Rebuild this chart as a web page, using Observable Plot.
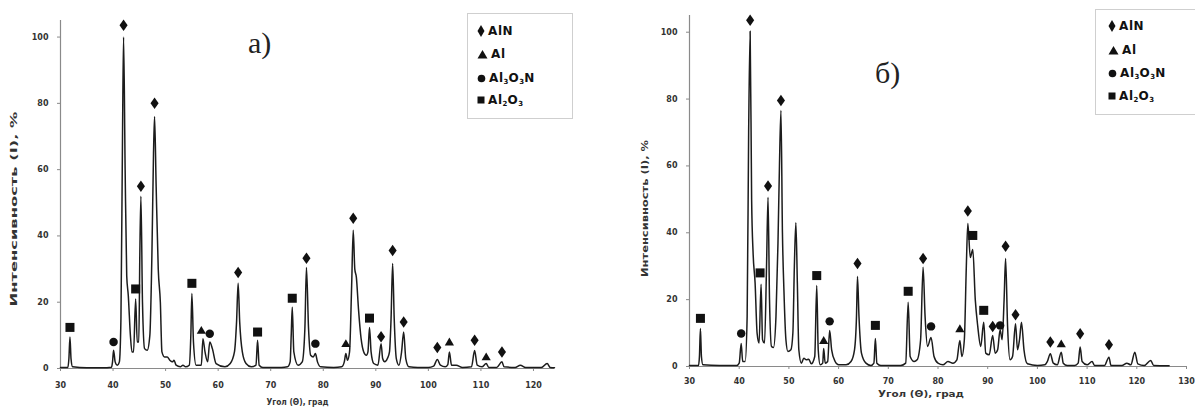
<!DOCTYPE html>
<html><head><meta charset="utf-8">
<script src="https://cdn.jsdelivr.net/npm/d3@7"></script>
<script src="https://cdn.jsdelivr.net/npm/@observablehq/plot@0.6"></script>
<style>
html,body{margin:0;padding:0;background:#fff;}
#wrap{position:relative;width:1195px;height:410px;overflow:hidden;background:#fff;}
.panel{position:absolute;top:0;}
.legend{position:absolute;border:1px solid #cfcfcf;background:#fff;font:bold 12px "DejaVu Sans",sans-serif;color:#111;letter-spacing:0.6px;box-sizing:border-box;}
.legend .row{position:absolute;display:flex;align-items:center;height:16px;}
.legend svg{margin-right:3px;}
.legend sub{font-size:7px;vertical-align:-2px;letter-spacing:0;}
.plab{position:absolute;font-family:"Liberation Serif","DejaVu Serif",serif;font-size:30px;color:#222;line-height:1;}
</style></head><body><div id="wrap"></div>
<script>
// ---------- DATA ----------
const phases = ["AlN", "Al", "Al3O3N", "Al2O3"];
const xTicksA = [30, 40, 50, 60, 70, 80, 90, 100, 110, 120];
const xTicksB = [30, 40, 50, 60, 70, 80, 90, 100, 110, 120, 130];
const yTicks = [0, 20, 40, 60, 80, 100];
const yLabel = "Интенсивность (I), %";
const xLabel = "Угол (Θ), град";
const panelLabels = ["а)", "б)"];

// pattern a) profile
const angleA = [30,31.4,31.6,31.8,32.0,32.3,35,38,39.7,39.9,40.1,40.4,40.8,41.2,41.5,41.8,42.0,42.3,42.6,42.9,43.3,43.6,43.9,44.3,44.6,44.9,45.1,45.3,45.6,46.0,46.5,47.0,47.4,47.7,47.9,48.2,48.6,49.0,49.3,49.8,50.3,50.8,51.3,51.6,52.0,52.8,53.3,53.8,54.5,54.8,55.0,55.3,55.8,56.3,56.8,57.1,57.5,58.0,58.4,58.9,59.6,61.3,62.3,63.1,63.5,63.8,64.1,64.6,65.3,66.3,67.2,67.5,67.8,68.5,72,73.2,73.7,73.9,74.1,74.4,75.2,76.0,76.5,76.8,77.2,77.6,78.1,78.5,78.9,79.5,82,83.5,84.0,84.3,84.6,85.0,85.4,85.7,86.0,86.3,86.7,87.2,87.7,88.2,88.5,88.8,89.1,89.6,90.4,91.0,91.3,91.7,92.2,92.6,92.9,93.2,93.5,93.9,94.4,94.9,95.3,95.7,96.3,98,100,101.0,101.7,102.3,103.2,103.7,104.0,104.4,105.3,106.5,108.2,108.8,109.3,110.2,111.0,111.5,113,114.0,114.4,116.5,117.5,118.5,121.5,122.6,123.2,124];
const intensityA = [0.3,0.3,3,9.5,3,0.5,0.2,0.2,0.4,2,5.5,2,1,2,15,70,100,60,28,22,10,5,5,21,8,8,35,52,20,6,5.5,10,35,65,76,55,30,20,5,3.5,3.5,2.5,2,2.5,1,0.5,1,0.5,1,10,22.6,8,1,1,1,9,5,2,8,6,1.5,0.5,1.5,5,14,25.7,14,5,1.5,0.5,1,8.5,1,0.3,0.3,0.5,2,10,18.5,5,1,2,12,30.5,12,4,3.5,4.5,2,0.5,0.3,0.5,2,4.5,2.5,5,25,41.7,30,27.5,18,9,5,4,5,12.4,5,1.5,1,7.5,3,2,3,5,15,31.7,15,3,1,5,11,3,0.5,0.3,0.3,0.7,2.7,1,0.5,1.2,5,1,1,0.3,0.5,5.4,1,0.5,1.5,0.3,0.3,2,0.5,0.3,1,0.3,0.3,1.5,0.3,0.2];

// pattern a) phase markers
const markAngleA = [31.8,40.1,42.0,44.3,45.3,47.9,55.0,56.8,58.4,63.8,67.5,74.1,76.8,78.5,84.3,85.7,88.8,91.0,93.2,95.3,101.7,104.0,108.8,111.0,114.0];
const markLevelA = [12.4,8,103.6,24,55,80,25.7,11.5,10.5,29,11,21.2,33.3,7.5,7.5,45.3,15.2,9.6,35.6,14,6.3,8,8.5,3.5,5];
const markPhaseA = ["Al2O3","Al3O3N","AlN","Al2O3","AlN","AlN","Al2O3","Al","Al3O3N","AlN","Al2O3","Al2O3","AlN","Al3O3N","Al","AlN","Al2O3","AlN","AlN","AlN","AlN","Al","AlN","Al","AlN"];

// pattern б) profile
const angleB = [30,31.8,32.0,32.2,32.4,32.7,36,39.5,40.0,40.4,40.7,41.2,41.6,41.9,42.2,42.5,42.8,43.2,43.6,44.0,44.4,44.7,45.1,45.5,45.8,46.1,46.5,46.9,47.4,47.8,48.1,48.4,48.7,49.0,49.4,49.8,50.4,50.8,51.1,51.4,51.7,52.0,52.5,53.0,53.5,54.0,54.5,55.2,55.6,55.9,56.3,56.8,57.0,57.3,57.8,58.2,58.6,59.3,60.0,61.5,62.5,63.2,63.6,63.8,64.1,64.6,65.5,66.5,67.1,67.4,67.7,68.5,72.5,73.5,74.0,74.4,75.2,75.8,76.5,77.0,77.4,77.9,78.6,79.2,80.0,81.0,82.0,83.0,83.8,84.4,84.8,85.3,85.7,86.0,86.5,87.0,87.5,88.0,88.6,89.2,89.6,90.3,91.0,91.5,92.0,92.5,92.9,93.3,93.6,94.0,94.5,95.0,95.6,96.0,96.4,96.8,97.3,98,100,101.5,102.0,102.6,103.2,104.0,104.8,105.2,106,107.5,108.2,108.6,109.0,110.0,111.0,111.5,113.5,114.4,114.8,117.0,118.0,118.8,119.6,120.2,121.5,122.8,123.4,126.5];
const intensityB = [0.3,0.3,3,11.4,3,0.5,0.3,0.3,1,6.9,1.5,1.5,15,70,100.3,50,33.8,25,10,7,24.6,8,7,30,50.6,20,6,5.7,15,36.8,60,76.6,40,22.8,8,4.5,5,10,30,43,25,5,1,2.5,2,2.2,0.8,3,24.2,5,0.5,1,5.4,1,1.5,10.8,5,1.5,0.5,0.5,1.5,5,15,26.9,15,4,1,0.3,1,8.4,1,0.3,0.3,1,19.2,3,1.5,2,8,29.7,15,6,8.7,3,1,0.5,1.5,1,2,7.8,3,8,30,42.8,32.6,35,20,12,6,13.2,4,3.5,9.3,4,5,11,8,20,32.3,12,2,3,12.8,5,8,13.2,5,0.8,0.3,0.5,1.5,3.8,1,0.5,4.3,1,0.3,0.3,1,5.8,1.5,0.5,1.5,0.3,0.3,2.8,0.3,0.3,1,0.5,4.3,0.8,0.3,1.8,0.3,0.2];

// pattern б) phase markers
const markAngleB = [32.2,40.4,42.2,44.2,45.8,48.4,55.6,57.0,58.2,63.8,67.4,74.0,77.0,78.6,84.4,86.0,87.0,89.2,91.0,92.5,93.6,95.6,102.6,104.8,108.6,114.4];
const markLevelB = [14.4,9.9,103.6,28,54,79.6,27.2,7.8,13.5,30.8,12.3,22.5,32.3,12,11.3,46.5,39.2,16.8,12,12.3,36,15.5,7.3,6.8,9.8,6.5];
const markPhaseB = ["Al2O3","Al3O3N","AlN","Al2O3","AlN","AlN","Al2O3","Al","Al3O3N","AlN","Al2O3","Al2O3","AlN","Al3O3N","Al","AlN","Al2O3","Al2O3","AlN","Al3O3N","AlN","AlN","AlN","Al","AlN","AlN"];

// ---------- SYMBOLS ----------
const symDiamond = {draw(c, size){const s=Math.sqrt(size/Math.PI), w=s*0.88, h=s*1.25; c.moveTo(0,-h); c.lineTo(w,0); c.lineTo(0,h); c.lineTo(-w,0); c.closePath();}};
const symTriangle = {draw(c, size){const s=Math.sqrt(size/Math.PI); c.moveTo(0,-s*0.95); c.lineTo(s*1.0,s*0.75); c.lineTo(-s*1.0,s*0.75); c.closePath();}};
const symCircle = {draw(c, size){const s=Math.sqrt(size/Math.PI)*0.92; c.moveTo(s,0); c.arc(0,0,s,0,2*Math.PI);}};
const symSquare = {draw(c, size){const s=Math.sqrt(size/Math.PI)*0.98; c.rect(-s,-s,2*s,2*s);}};
const symbolRange = [symDiamond, symTriangle, symCircle, symSquare];

function makePanel(cfg) {
  const profile = cfg.angle.map((a, i) => ({angle: a, intensity: cfg.intensity[i]}));
  const marks = cfg.markAngle.map((a, i) => ({angle: a, level: cfg.markLevel[i], phase: cfg.markPhase[i]}));
  const svg = Plot.plot({
    width: cfg.width, height: 410,
    marginLeft: cfg.ml, marginRight: cfg.mr, marginTop: cfg.mt, marginBottom: cfg.mb,
    x: {domain: [30, cfg.xmax]},
    y: {domain: [0, 105]},
    symbol: {domain: phases, range: symbolRange},
    style: {fontFamily: "'DejaVu Sans', sans-serif", fontSize: "8px", fontWeight: "bold", color: "#333", background: "transparent", overflow: "visible"},
    marks: [
      Plot.ruleX([30], {stroke: "#8a8a8a", strokeWidth: 1.2}),
      Plot.ruleY([0], {stroke: "#8a8a8a", strokeWidth: 1.2}),
      Plot.axisX({ticks: cfg.xticks, tickSize: 3, tickPadding: cfg.xpad, label: null, stroke: "#8a8a8a", fill: "#333", tickFormat: d => d}),
      Plot.axisY({ticks: yTicks, tickSize: 3, tickPadding: cfg.ypad, label: null, stroke: "#8a8a8a", fill: "#333", tickFormat: d => d}),
      Plot.line(profile, {x: "angle", y: "intensity", stroke: "#1c1c1c", strokeWidth: 1.5, curve: "monotone-x"}),
      Plot.dot(marks, {x: "angle", y: "level", symbol: "phase", r: 4.6, fill: "#111", stroke: "none"}),
      Plot.text([yLabel], {frameAnchor: "left", rotate: -90, dx: cfg.ylx, dy: cfg.yly, fontSize: 9, fill: "#333", textAnchor: "start"}),
      Plot.text([xLabel], {frameAnchor: "bottom", dx: cfg.xlx, dy: cfg.xly, fontSize: 8, fill: "#333", textAnchor: "start"})
    ]
  });
  d3.select(svg).selectAll("text").each(function() {
    if (this.textContent === yLabel) { d3.select(this).attr("textLength", cfg.ylen).attr("lengthAdjust", "spacingAndGlyphs"); }
    if (this.textContent === xLabel) { d3.select(this).attr("textLength", cfg.xlen).attr("lengthAdjust", "spacingAndGlyphs"); }
  });
  svg.classList.add("panel");
  svg.style.left = cfg.left + "px";
  return svg;
}

const wrap = document.getElementById("wrap");
wrap.appendChild(makePanel({
  angle: angleA, intensity: intensityA, markAngle: markAngleA, markLevel: markLevelA, markPhase: markPhaseA,
  left: 0, width: 600, ml: 60, mr: 46, mt: 20, mb: 42, xmax: 124, xticks: xTicksA,
  xpad: 11, ypad: 9, ylx: -46, yly: 112, ylen: 195, xlx: -41, xly: 36, xlen: 62
}));
wrap.appendChild(makePanel({
  angle: angleB, intensity: intensityB, markAngle: markAngleB, markLevel: markLevelB, markPhase: markPhaseB,
  left: 598, width: 597, ml: 91, mr: 9, mt: 15, mb: 44, xmax: 130, xticks: xTicksB,
  xpad: 9, ypad: 9, ylx: -44, yly: 86, ylen: 137, xlx: -60, xly: 30, xlen: 86
}));

// panel labels
[[panelLabels[0], 248, 28], [panelLabels[1], 875, 58]].forEach(([t, x, y]) => {
  const d = document.createElement("div"); d.className = "plab"; d.textContent = t;
  d.style.left = x + "px"; d.style.top = y + "px"; wrap.appendChild(d);
});

// legends
const legendLabels = ["AlN", "Al", "Al<sub>3</sub>O<sub>3</sub>N", "Al<sub>2</sub>O<sub>3</sub>"];
const legendIcons = [
  '<svg width="8" height="12"><path d="M4 0L7.5 6L4 12L0.5 6Z" fill="#111"/></svg>',
  '<svg width="11" height="10"><path d="M5.5 1L10.5 9.5L0.5 9.5Z" fill="#111"/></svg>',
  '<svg width="9" height="9"><circle cx="4.5" cy="4.5" r="3.8" fill="#111"/></svg>',
  '<svg width="8" height="8"><rect x="0.5" y="0.5" width="7" height="7" fill="#111"/></svg>'
];
function addLegend(x, y, w, h, rows, iconX) {
  const box = document.createElement("div"); box.className = "legend";
  box.style.left = x + "px"; box.style.top = y + "px"; box.style.width = w + "px"; box.style.height = h + "px";
  phases.forEach((p, i) => {
    const r = document.createElement("div"); r.className = "row";
    r.style.left = iconX + "px"; r.style.top = (rows[i] - y - 8) + "px";
    r.innerHTML = legendIcons[i] + "<span>" + legendLabels[i] + "</span>";
    box.appendChild(r);
  });
  wrap.appendChild(box);
}
addLegend(467, 13, 106, 106, [30, 53, 77, 99], 9);
addLegend(1095, 9, 110, 106, [25, 49, 72, 95], 12);
</script>
</body></html>
